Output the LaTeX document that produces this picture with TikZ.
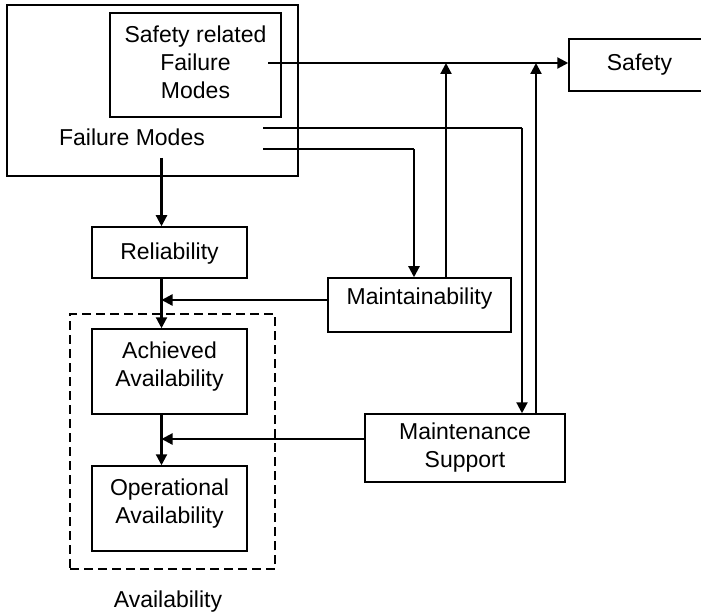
\documentclass[tikz,border=0pt]{standalone}
\usepackage{fontspec}
\setmainfont{Liberation Sans}
\usetikzlibrary{arrows.meta}

\begin{document}
\begin{tikzpicture}[x=1pt,y=-1pt,
  box/.style={draw,line width=1.5pt,rectangle,inner sep=0pt,align=center},
  arr/.style={line width=2.2pt,-{Triangle[length=11pt,width=11pt]}},
  plain/.style={line width=2.2pt},
  every node/.append style={font=\fontsize{23}{28}\selectfont}]
\useasboundingbox (0,0) rectangle (701,612);

% outer failure-mode block and its safety subset
\node[box,minimum width=291pt,minimum height=171pt] (fm) at (152.5,90.5) {};
\node[box,minimum width=171pt,minimum height=104pt] (srfm) at (195.5,65)
  {Safety related\\Failure\\Modes\rule[-6pt]{0pt}{6pt}};
\node[anchor=base,inner sep=0pt] (fmlabel) at (132,146) {Failure Modes};

% right-hand boxes
\node[box,minimum width=141pt,minimum height=52pt,text height=16pt,text depth=4pt] (safety) at (639.5,65) {Safety};
\node[box,minimum width=183pt,minimum height=54pt,text height=16pt,text depth=18pt] (maint) at (419.5,305) {Maintainability};
\node[box,minimum width=200pt,minimum height=68pt] (ms) at (465,448) {Maintenance\\Support};

% left column
\node[box,minimum width=155pt,minimum height=51pt,text height=16pt,text depth=3pt] (rel) at (169.5,252.5) {Reliability};
\node[box,dashed,dash pattern=on 9pt off 5pt,minimum width=205pt,minimum height=255pt] (avail) at (172.5,441.5) {};
\node[box,minimum width=155pt,minimum height=85pt] (ach) at (169.5,371.5)
  {Achieved\\Availability\rule[-14pt]{0pt}{14pt}};
\node[box,minimum width=155pt,minimum height=85pt] (oper) at (169.5,508.5)
  {Operational\\Availability\rule[-14pt]{0pt}{14pt}};
\node[anchor=base,inner sep=0pt] (availlabel) at (168,607) {Availability};

% connector end points and bends
\coordinate (sStart) at (268,63);
\coordinate (jA) at (446,63);
\coordinate (jB) at (536,63);
\coordinate (fmA) at (263,128);
\coordinate (cA) at (522,128);
\coordinate (fmB) at (263,149);
\coordinate (cB) at (414,149);
\coordinate (fmC) at (161.5,158);
\coordinate (mJ) at (161.5,300);
\coordinate (sJ) at (161.5,439);

% safety path
\draw[arr] (sStart) -- (sStart -| safety.west);
\draw[arr] (maint.north -| jA) -- (jA);
\draw[arr] (ms.north -| jB) -- (jB);

% failure modes feeding maintainability and support
\draw[plain] (fmA) -- (cA);
\draw[arr] (cA) -- (cA |- ms.north);
\draw[plain] (fmB) -- (cB);
\draw[arr] (cB) -- (cB |- maint.north);

% availability chain
\draw[arr] (fmC) -- (fmC |- rel.north);
\draw[arr] (rel.south -| fmC) -- (ach.north -| fmC);
\draw[arr] (mJ -| maint.west) -- (mJ);
\draw[arr] (ach.south -| fmC) -- (oper.north -| fmC);
\draw[arr] (sJ -| ms.west) -- (sJ);
\end{tikzpicture}
\end{document}
